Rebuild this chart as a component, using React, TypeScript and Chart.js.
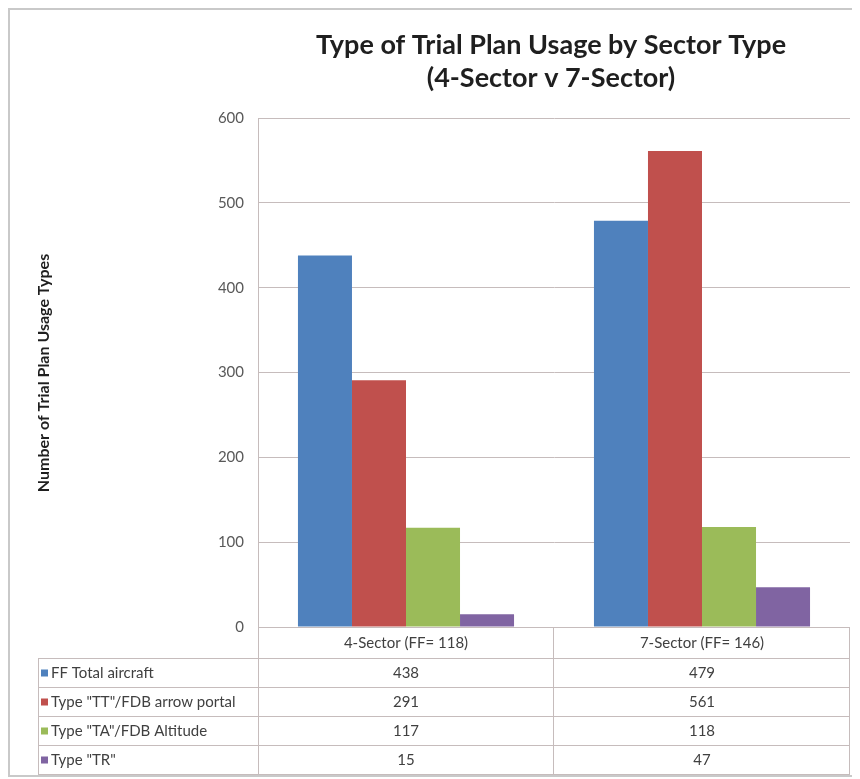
import React, { useEffect, useRef } from "react";
import { Chart, registerables } from "chart.js";

Chart.register(...registerables);

const categories = ["4-Sector (FF= 118)", "7-Sector (FF= 146)"];
const seriesNames = [
  "FF Total aircraft",
  'Type "TT"/FDB arrow portal',
  'Type "TA"/FDB Altitude',
  'Type "TR"',
];
const ffTotal = [438, 479];
const typeTT = [291, 561];
const typeTA = [117, 118];
const typeTR = [15, 47];
const seriesColors = ["#4F81BD", "#C0504D", "#9BBB59", "#8064A2"];
const titleLines = ["Type of Trial Plan Usage by Sector Type", "(4-Sector v 7-Sector)"];
const yTitle = "Number of Trial Plan Usage Types";
const yMin = 0;
const yMax = 600;
const yStep = 100;

const W = 846;
const H = 765;
const LINE = "#c6bcbc";
const FONT = "Lato, 'Liberation Sans', sans-serif";

const decorPlugin = {
  id: "decor",
  afterDraw(chart: any) {
    const ctx = chart.ctx as CanvasRenderingContext2D;
    const area = chart.chartArea;
    const xs = chart.scales.x;
    const series = chart.data.datasets;
    ctx.save();

    // Title
    ctx.fillStyle = "#1f1f1f";
    ctx.font = `bold 27px ${FONT}`;
    ctx.textAlign = "center";
    ctx.textBaseline = "middle";
    const tcx = (area.left + area.right) / 2 - 3;
    ctx.fillText(titleLines[0], tcx, 35);
    ctx.fillText(titleLines[1], tcx, 68);

    // Y title
    ctx.save();
    ctx.translate(34, 363);
    ctx.rotate(-Math.PI / 2);
    ctx.font = `bold 16px ${FONT}`;
    ctx.fillStyle = "#1f1f1f";
    ctx.fillText(yTitle, 0, 0);
    ctx.restore();

    // Data table
    const n = categories.length;
    const centers = categories.map((_, i) => xs.getPixelForValue(i));
    const bounds: number[] = [area.left];
    for (let i = 0; i < n - 1; i++) bounds.push((centers[i] + centers[i + 1]) / 2);
    bounds.push(area.right);
    const tableLeft = 28;
    const headerTop = area.bottom;
    const headerBottom = headerTop + 31;
    const rowH = 29;
    const rows = series.length;
    const tableBottom = headerBottom + rowH * rows;

    ctx.strokeStyle = LINE;
    ctx.lineWidth = 1;
    const hline = (x1: number, x2: number, y: number) => {
      ctx.beginPath();
      ctx.moveTo(x1, Math.round(y) + 0.5);
      ctx.lineTo(x2, Math.round(y) + 0.5);
      ctx.stroke();
    };
    const vline = (x: number, y1: number, y2: number) => {
      ctx.beginPath();
      ctx.moveTo(Math.round(x) + 0.5, y1);
      ctx.lineTo(Math.round(x) + 0.5, y2);
      ctx.stroke();
    };
    hline(area.left, area.right, headerTop);
    for (let r = 0; r <= rows; r++) hline(tableLeft, area.right, headerBottom + r * rowH);
    vline(tableLeft, headerBottom, tableBottom + 1);
    vline(area.left, area.top, tableBottom + 1);
    for (let i = 1; i < bounds.length; i++) vline(bounds[i] - 1, headerTop, tableBottom + 1);

    ctx.font = `15px ${FONT}`;
    ctx.fillStyle = "#404040";
    ctx.textBaseline = "middle";
    ctx.textAlign = "center";
    categories.forEach((c, i) => ctx.fillText(c, centers[i], (headerTop + headerBottom) / 2 + 1));
    series.forEach((ds: any, r: number) => {
      const cy = headerBottom + r * rowH + rowH / 2 + 1;
      ctx.fillStyle = ds.backgroundColor;
      ctx.fillRect(tableLeft + 3, cy - 4, 7, 7);
      ctx.fillStyle = "#404040";
      ctx.textAlign = "left";
      ctx.fillText(ds.label, tableLeft + 13, cy);
      ctx.textAlign = "center";
      ds.data.forEach((v: number, i: number) => ctx.fillText(String(v), centers[i], cy));
    });
    ctx.restore();
  },
};

export default function App() {
  const ref = useRef<HTMLCanvasElement | null>(null);
  useEffect(() => {
    if (!ref.current) return;
    const values = [ffTotal, typeTT, typeTA, typeTR];
    const chart = new Chart(ref.current, {
      type: "bar",
      data: {
        labels: categories,
        datasets: values.map((d, i) => ({
          label: seriesNames[i],
          data: d,
          backgroundColor: seriesColors[i],
          borderWidth: 0,
          categoryPercentage: 0.73,
          barPercentage: 1.0,
        })),
      },
      options: {
        responsive: false,
        animation: false,
        devicePixelRatio: 1,
        layout: { padding: { top: 108, right: 6, bottom: 148, left: 0 } },
        plugins: {
          legend: { display: false },
          title: { display: false },
          tooltip: { enabled: false },
        },
        scales: {
          x: { display: false },
          y: {
            min: yMin,
            max: yMax,
            ticks: {
              stepSize: yStep,
              padding: 14,
              color: "#595959",
              font: { family: FONT, size: 15 },
            },
            grid: { color: LINE, drawTicks: false },
            border: { color: LINE },
            afterFit: (s: any) => {
              s.width = 248;
            },
          },
        },
      },
      plugins: [decorPlugin],
    });
    return () => chart.destroy();
  }, []);

  return (
    <div
      style={{
        width: W,
        height: H,
        border: "2px solid #c9c9c9",
        background: "#ffffff",
      }}
    >
      <canvas ref={ref} width={W} height={H} style={{ display: "block" }} />
    </div>
  );
}
